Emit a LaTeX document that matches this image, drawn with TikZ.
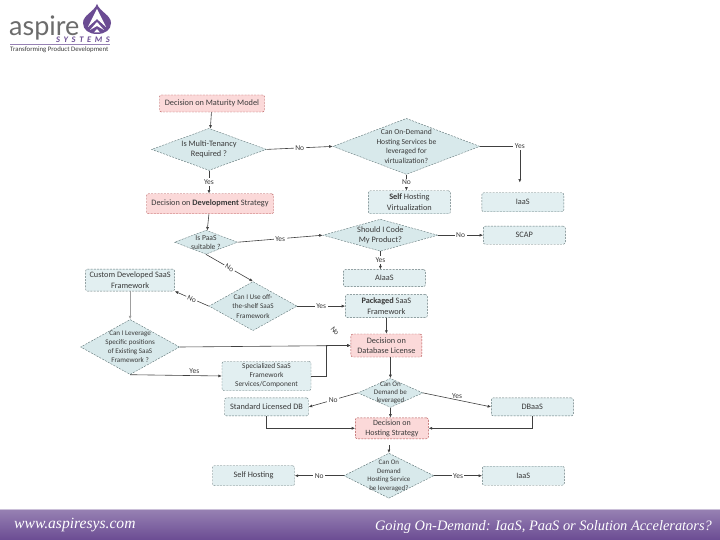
\documentclass[tikz,border=0pt]{standalone}
\usepackage{fontspec}
\setmainfont{Carlito}
\newfontfamily\footfont{Liberation Serif}
\newfontfamily\logofont{Lato}
\usepackage{xcolor}
\usetikzlibrary{arrows.meta,positioning,calc,shapes.geometric}
\definecolor{bluefill}{HTML}{E2EFF1}
\definecolor{diafill}{HTML}{D8E9EB}
\definecolor{redfill}{HTML}{FBD9D9}
\definecolor{redline}{HTML}{B04A4A}
\definecolor{boxline}{HTML}{5F7476}
\definecolor{lineink}{HTML}{404040}
\definecolor{textink}{HTML}{3A3A3A}
\definecolor{logopurple}{HTML}{6B4C93}

\begin{document}
\begin{tikzpicture}[
  x=1pt, y=-1pt,
  node distance=16pt,
  every node/.style={text=textink, font=\fontsize{8.3}{10.5}\selectfont},
  block/.style={draw=boxline, dash pattern=on 2pt off 1.2pt, rounded corners=2pt, fill=bluefill, minimum width=82pt, minimum height=19pt, inner sep=1pt, align=center},
  redblock/.style={block, draw=redline, fill=redfill},
  decision/.style={diamond, draw=boxline, dash pattern=on 2pt off 1.2pt, fill=diafill, aspect=1, inner sep=-14pt, align=center},
  arrow/.style={-{Latex[length=3.5pt,width=3pt]}, color=lineink, line width=0.6pt},
  tag/.style={fill=white, inner sep=1.5pt, font=\fontsize{7.5}{8}\selectfont, text=textink},
  foottext/.style={text=white, inner sep=0pt, font=\footfont\itshape\fontsize{14.4}{16}\selectfont}
]
\useasboundingbox (0,0) rectangle (720,540);
% footer band
\shade[top color=logopurple!70, bottom color=logopurple] (0,509) rectangle (720,540);
\fill[logopurple!35] (0,508.5) rectangle (720,510);
\node[foottext, anchor=west, font=\footfont\itshape\fontsize{15.6}{16}\selectfont] (site) at (14,525) {www.aspiresys.com};
\node[foottext, anchor=east] (title) at (712,527) {Going On-Demand: IaaS, PaaS or Solution Accelerators?};
% logo
\fill[logopurple] (97,4) .. controls (100,12) and (111,15) .. (111,23) .. controls (111,30) and (105,34) .. (97,34) .. controls (89,34) and (83,30) .. (83,23) .. controls (83,15) and (94,12) .. (97,4) -- cycle;
\fill[white] (97,9) -- (106,27) -- (97,19) -- (88,27) -- cycle;
\fill[white] (97,22) -- (104,30) -- (97,26) -- (90,30) -- cycle;
\fill[white] (97,29) -- (100,32.5) -- (94,32.5) -- cycle;
\node[anchor=west, inner sep=0pt, text=gray!85!black, font=\logofont\fontsize{27}{27}\selectfont] (logoname) at (9,28) {aspire};
\node[anchor=east, inner sep=0pt, text=logopurple, font=\itshape\bfseries\fontsize{8.5}{9}\selectfont] (logosub) at (110,39.5) {S\hspace{3.6pt}Y\hspace{3.6pt}S\hspace{3.6pt}T\hspace{3.6pt}E\hspace{3.6pt}M\hspace{3.6pt}S};
\draw[logopurple!70, line width=0.7pt] (10,44.5) -- (110,44.5);
\node[anchor=west, inner sep=0pt, font=\fontsize{6.8}{7}\selectfont] (logotag) at (10,50) {Transforming Product Development};
% flow
\node[redblock, minimum width=105pt, minimum height=17pt] (maturity) at (212,103.5) {Decision on Maturity Model};
\node[decision, minimum width=115pt, minimum height=42pt, below=16pt of maturity, xshift=-3pt] (tenancy) {Is Multi-Tenancy\\Required ?};
\node[decision, minimum width=147pt, minimum height=56pt, right=66pt of tenancy, yshift=3pt, font=\fontsize{7.6}{9.5}\selectfont] (ondemand) {Can On-Demand\\Hosting Services be\\leveraged for\\virtualization?};
\node[block, minimum height=23pt, below=16pt of ondemand, xshift=3pt] (selfvirt) {\textbf{Self} Hosting\\Virtualization};
\node[block, right=31pt of selfvirt] (iaastop) {IaaS};
\node[redblock, minimum width=127pt, minimum height=20pt, below=23pt of tenancy, xshift=1pt] (strategy) {Decision on \textbf{Development} Strategy};
\node[decision, minimum width=63pt, minimum height=24pt, below=16pt of strategy, xshift=-4pt, font=\fontsize{7.6}{9}\selectfont] (paas) {Is PaaS\\suitable ?};
\node[decision, minimum width=115pt, minimum height=32pt, right=85pt of paas, yshift=7pt] (code) {Should I Code\\My Product?};
\node[block, minimum height=18pt, right=45pt of code] (scap) {SCAP};
\node[block, minimum height=17pt, below=18pt of code, xshift=4pt] (aiaas) {AIaaS};
\node[decision, minimum width=88pt, minimum height=49pt, below=27pt of paas, xshift=47pt, font=\fontsize{7.2}{9.5}\selectfont] (offshelf) {Can I Use off-\\the-shelf SaaS\\Framework};
\node[block, minimum width=89pt, minimum height=22pt, left=34pt of offshelf, yshift=26pt] (custom) {Custom Developed SaaS\\Framework};
\node[block, minimum height=23pt, right=48pt of offshelf] (packaged) {\textbf{Packaged} SaaS\\Framework};
\node[redblock, minimum width=71pt, minimum height=23pt, below=16pt of packaged] (database) {Decision on\\Database License};
\node[decision, minimum width=99pt, minimum height=55pt, below=28pt of custom, font=\fontsize{7.1}{9}\selectfont] (leverage) {Can I Leverage\\Specific positions\\of Existing SaaS\\Framework ?};
\node[block, minimum width=89pt, minimum height=29pt, right=42pt of leverage, yshift=-29pt, font=\fontsize{7.4}{9}\selectfont] (special) {Specialized SaaS\\Framework\\Services/Component};
\node[decision, minimum width=65pt, minimum height=29pt, below=21pt of database, xshift=4pt, font=\fontsize{7}{8}\selectfont] (dbdemand) {Can On\\Demand be\\leveraged};
\node[block, minimum width=84pt, minimum height=18pt, left=49pt of dbdemand, yshift=-14pt] (standard) {Standard Licensed DB};
\node[block, minimum height=18pt, right=68pt of dbdemand, yshift=-14pt] (dbaas) {DBaaS};
\node[redblock, minimum width=73pt, minimum height=21pt, below=10pt of dbdemand, xshift=1.5pt, font=\fontsize{8}{10}\selectfont] (hosting) {Decision on\\Hosting Strategy};
\node[decision, minimum width=90pt, minimum height=45pt, below=14pt of hosting, xshift=-3pt, font=\fontsize{6.9}{8.5}\selectfont] (hostdemand) {Can On\\Demand\\Hosting Service\\be leveraged?};
\node[block, minimum height=20pt, left=49pt of hostdemand] (selfhost) {Self Hosting};
\node[block, minimum height=19pt, right=48pt of hostdemand] (iaasbot) {IaaS};
\node[tag, rotate=-50] (strayno) at (335,331) {No};
\draw[arrow] (maturity) -- (tenancy);
\draw[arrow] (tenancy.east) -- node[tag] {No} (ondemand.west);
\draw[arrow] (tenancy.south) -- node[tag] {Yes} (strategy.north -| tenancy.south);
\draw[arrow, shorten >=10pt] (ondemand.east) -| node[tag, pos=0.5] {Yes} ([xshift=-3pt]iaastop.north);
\draw[arrow] (ondemand.south) -- node[tag] {No} (selfvirt.north -| ondemand.south);
\draw[arrow] (strategy) -- (paas);
\draw[arrow] (paas.east) -- node[tag] {Yes} (code.west);
\draw[arrow] (code.east) -- node[tag] {No} (scap.west);
\draw[arrow] (code.south) -- node[tag] {Yes} (aiaas.north -| code.south);
\draw[arrow] (paas.south) -- node[tag, sloped] {No} (offshelf.north);
\draw[arrow] (offshelf.west) -- node[tag, sloped] {No} (custom.south east);
\draw[arrow] (offshelf.east) -- node[tag] {Yes} (packaged.west);
\draw[arrow, color=lineink!50] (custom) -- (leverage);
\draw[arrow] (leverage.east) -- (database.west);
\draw[arrow] (leverage.south) -- node[tag, above, fill=none, pos=0.7] {Yes} (special.west);
\draw[arrow] (special.east) -- ++(15,0) |- (database.west);
\draw[arrow] (packaged) -- (database);
\draw[arrow] (database.south -| dbdemand.north) -- (dbdemand.north);
\draw[arrow] (dbdemand.west) -- node[tag] {No} (standard.east);
\draw[arrow] (dbdemand.east) -- node[tag, above, fill=none] {Yes} (dbaas.west);
\draw[arrow] (dbdemand.south) -- (hosting.north -| dbdemand.south);
\draw[arrow] (standard.south) |- (hosting.west);
\draw[arrow] (dbaas.south) |- (hosting.east);
\draw[arrow, shorten <=6pt] (hosting.south -| hostdemand.north) -- (hostdemand.north);
\draw[arrow] (hostdemand.west) -- node[tag] {No} (selfhost.east);
\draw[arrow] (hostdemand.east) -- node[tag] {Yes} (iaasbot.west);
\end{tikzpicture}
\end{document}
